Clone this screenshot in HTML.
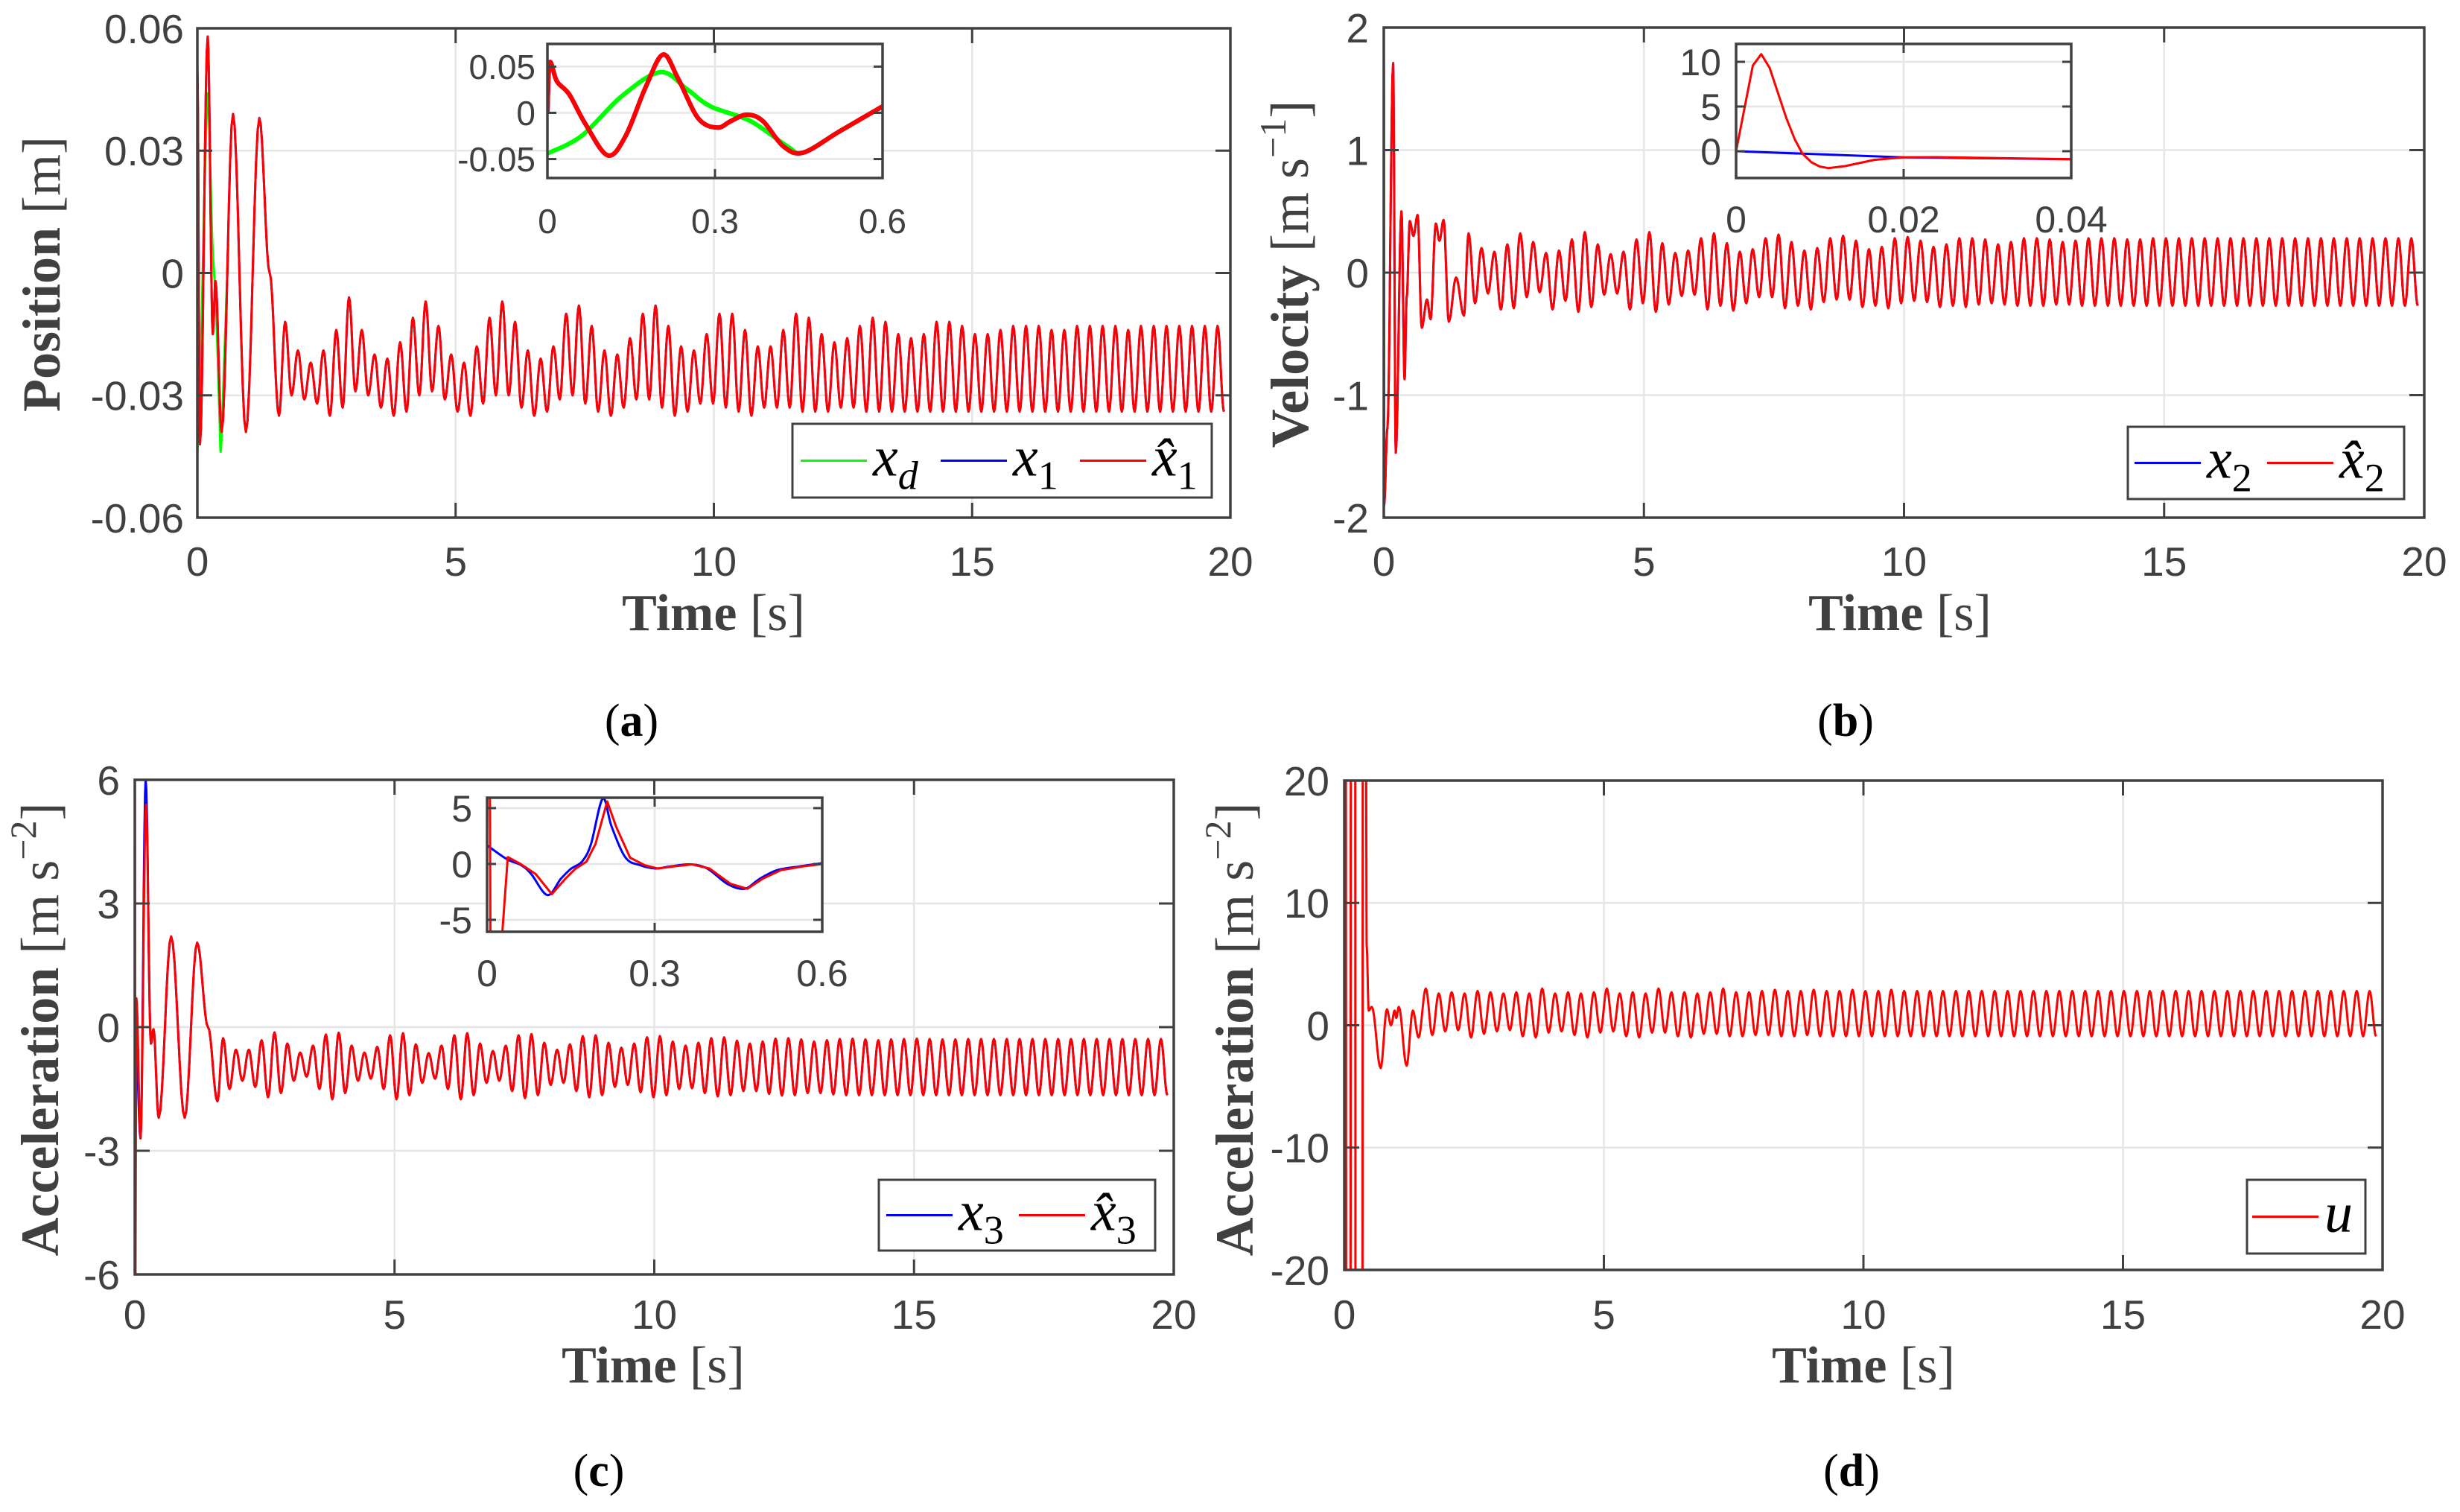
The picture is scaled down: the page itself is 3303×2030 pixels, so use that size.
<!DOCTYPE html>
<html><head><meta charset="utf-8">
<style>
html,body{margin:0;padding:0;background:#fff;}
svg{display:block;}
</style></head>
<body>
<svg id="fig" xmlns="http://www.w3.org/2000/svg" width="3303" height="2030" viewBox="0 0 3303 2030"></svg>
<script>
// ---------- DATA ----------
// Panel (a) position [mm]
const aTransT = [0,0.05,0.2,0.3,0.35,0.47,0.69,0.94,1.2,1.4,1.58];
const aTransV = [50,-42,58,-15,-2,-39,39,-39,38,0,-35];
const aSteadyStart = 1.7;
const aPeaks = [-12,-19,-22,-19,-14,-6,-14,-20,-21,-17,-11,-7,-13,-20,-22,-18,-11,-7,-12,-19,-21,-18,-10,-8,-13,-19,-20,-16,-10,-8,-13,-18,-19,-15,-10,-10,-14,-18,-18,-14,-10,-11,-15,-17,-16,-13,-11,-12,-15,-16,-15,-12,-12,-13,-15,-15,-14,-13,-13,-13,-14,-14,-13,-13,-13,-13,-14,-13,-13,-13,-13,-13,-13,-13];
const aTroughs = [-30,-31,-32,-35,-33,-29,-30,-33,-35,-34,-30,-29,-31,-34,-35,-32,-30,-30,-33,-35,-34,-31,-30,-32,-34,-35,-33,-31,-31,-33,-35,-34,-32,-32,-33,-34,-35,-33,-33,-33,-34,-34,-34,-33,-33,-34,-34,-34,-34,-34,-34,-34,-34,-34,-34,-34,-34,-34,-34,-34,-34,-34,-34,-34,-34,-34,-34,-34,-34,-34,-34,-34,-34,-34];
const aInsetRedT = [0,0.004,0.017,0.039,0.068,0.108,0.14,0.176,0.207,0.234,0.27,0.304,0.328,0.357,0.386,0.422,0.458,0.523,0.6];
const aInsetRedV = [0,54,34,20,-12,-46,-25,28,63,37,-6,-16,-9,-2,-9,-36,-43,-20,7];
const aInsetGreenT = [0,0.061,0.133,0.202,0.249,0.292,0.364,0.429,0.458,0.523,0.6];
const aInsetGreenV = [-44,-25,18,44,26,7,-9,-36,-43,-20,7];
// Panel (b) velocity [0.01 m/s]
const bTransT = [0,0.005,0.07,0.18,0.23,0.34,0.4,0.44,0.5,0.57,0.65,0.73,0.83,0.9,1.0,1.07,1.15,1.25,1.39,1.54];
const bTransV = [200,-190,-127,171,-147,50,-87,-20,42,30,47,-45,-22,-38,40,26,43,-40,-4,-35];
const bSteadyStart = 1.63;
const bPeaks = [32,20,17,23,32,25,16,18,27,33,23,15,17,27,33,24,16,18,28,32,24,17,19,28,31,25,18,20,28,30,26,19,21,28,29,26,21,23,28,28,27,23,25,28,28,27,25,26,28,28,28,27,27,28,28,28,28,28,28,28,28,28,28,28,28,28,28,28,28,28,28,28,28,28];
const bTroughs = [-25,-17,-30,-29,-20,-16,-30,-23,-32,-28,-18,-17,-30,-25,-32,-26,-19,-18,-30,-27,-31,-25,-20,-20,-29,-27,-30,-24,-22,-22,-28,-27,-29,-25,-23,-24,-28,-27,-28,-26,-25,-26,-27,-27,-27,-26,-26,-27,-27,-27,-27,-27,-27,-27,-27,-27,-27,-27,-27,-27,-27,-27,-27,-27,-27,-27,-27,-27,-27,-27,-27,-27,-27,-27];
const bInsetRedT = [0,0.002,0.003,0.004,0.006,0.007,0.0079,0.009,0.01,0.011,0.013,0.0165,0.02,0.024,0.0298,0.04];
const bInsetRedV = [0,9.58,10.86,9.33,3.7,1.33,-0.25,-1.25,-1.72,-1.89,-1.67,-0.97,-0.69,-0.67,-0.75,-0.89];
const bInsetBlueT = [0,0.02,0.04];
const bInsetBlueV = [0,-0.69,-0.89];
// Panel (c) acceleration [0.01 m/s^2]
const cTransT = [0,0.11,0.21,0.31,0.36,0.46,0.7,0.96,1.2,1.41,1.59];
const cTransV = [70,-270,600,-40,-5,-220,220,-220,205,0,-180];
const cRedTransT = [0,0.01,0.03,0.11,0.215,0.31,0.36,0.46,0.7,0.96,1.2,1.41,1.59];
const cRedTransV = [620,-620,70,-270,540,-40,-5,-220,220,-220,205,0,-180];
const cSteadyStart = 1.7;
const cPeaks = [-27,-55,-55,-32,-13,-40,-62,-45,-18,-14,-45,-62,-48,-20,-15,-42,-63,-45,-20,-15,-40,-58,-45,-20,-17,-38,-55,-42,-22,-20,-38,-50,-40,-25,-22,-35,-45,-38,-27,-25,-33,-40,-35,-28,-27,-30,-35,-32,-29,-28,-30,-32,-30,-29,-28,-29,-30,-30,-29,-29,-29,-29,-29,-29,-29,-29,-29,-29,-29,-29,-29,-29,-29,-29];
const cTroughs = [-150,-130,-145,-170,-160,-130,-120,-150,-175,-160,-130,-125,-150,-175,-165,-135,-125,-150,-175,-165,-135,-130,-155,-172,-165,-140,-135,-155,-170,-165,-145,-140,-158,-170,-165,-150,-148,-160,-168,-165,-155,-155,-162,-166,-165,-160,-160,-163,-165,-165,-165,-165,-165,-165,-165,-165,-165,-165,-165,-165,-165,-165,-165,-165,-165,-165,-165,-165,-165,-165,-165,-165,-165,-165];
const cInsetBlueT = [0,0.035,0.061,0.079,0.108,0.132,0.15,0.17,0.186,0.207,0.223,0.248,0.274,0.301,0.328,0.363,0.394,0.43,0.461,0.488,0.519,0.559,0.6];
const cInsetBlueV = [1.67,0.44,-0.11,-0.9,-2.78,-1.33,-0.44,0.22,1.78,5.84,3.33,0.56,-0.11,-0.4,-0.22,-0.04,-0.4,-1.78,-2.22,-1.33,-0.56,-0.22,0.07];
const cInsetRedT = [0,0.0005,0.005,0.006,0.026,0.037,0.06,0.087,0.116,0.14,0.158,0.178,0.194,0.215,0.231,0.256,0.282,0.305,0.334,0.367,0.398,0.436,0.466,0.493,0.526,0.565,0.6];
const cInsetRedV = [0,7,7,-7,-7,0.62,0,-0.9,-2.7,-1.33,-0.44,0.22,1.78,5.6,3.33,0.56,-0.11,-0.4,-0.22,-0.04,-0.4,-1.78,-2.22,-1.33,-0.56,-0.22,0];
// Panel (d) control u [0.1 m/s^2]
const dTransT = [0,0.005,0.03,0.035,0.12,0.125,0.21,0.215,0.35,0.355,0.42,0.43,0.47,0.53,0.7,0.82,0.9,0.97,1.0,1.05,1.2,1.32,1.43];
const dTransV = [-210,210,210,-210,-210,210,210,-210,-210,210,210,65,12,15,-35,13,0,12,6,15,-33,12,-10];
const dSteadyStart = 1.57;
const dPeaks = [30,26,27,26,28,27,26,27,26,30,26,27,26,27,30,26,27,26,30,27,27,26,27,30,27,27,28,29,28,28,29,28,28,29,28,28,29,28,28,28,28,28,28,28,28,28,28,28,28,28,28,28,28,28,28,28,28,28,28,28,28,28,28,28,28,28,28,28,28,28,28,28,28,28];
const dTroughs = [-8,-5,-4,-10,-7,-5,-4,-9,-10,-6,-5,-8,-10,-6,-5,-9,-10,-6,-6,-9,-10,-7,-7,-9,-9,-8,-8,-9,-9,-8,-9,-9,-9,-9,-9,-9,-9,-9,-9,-9,-9,-9,-9,-9,-9,-9,-9,-9,-9,-9,-9,-9,-9,-9,-9,-9,-9,-9,-9,-9,-9,-9,-9,-9,-9,-9,-9,-9,-9,-9,-9,-9,-9,-9];
const xTicksMain = [0,5,10,15,20];
const xTickLabelsMain = ['0','5','10','15','20'];

// ---------- HELPERS ----------
const NS = 'http://www.w3.org/2000/svg';
const svg = document.getElementById('fig');
function mk(tag, attrs, name, parent) {
  const e = document.createElementNS(NS, tag);
  for (const k in attrs) e.setAttribute(k, attrs[k]);
  
  
  (parent || svg).appendChild(e);
  return e;
}
function axis(x0, x1, y0, y1, xmin, xmax, ymin, ymax) {
  return {x0, x1, y0, y1,
    X: v => x0 + (v - xmin) / (xmax - xmin) * (x1 - x0),
    Y: v => y1 - (v - ymin) / (ymax - ymin) * (y1 - y0)};
}
function combine(transT, transV, start, peaks, troughs, scale) {
  const T = transT.slice(), V = transV.map(v => v * scale);
  const P = (20 - start) / peaks.length;
  for (let k = 0; k < peaks.length; k++) {
    T.push(start + k * P); V.push(peaks[k] * scale);
    T.push(start + (k + 0.5) * P); V.push(troughs[k] * scale);
  }
  return [T, V];
}
function cosPath(ax, T, V) {
  let d = 'M' + ax.X(T[0]).toFixed(1) + ',' + ax.Y(V[0]).toFixed(1);
  for (let i = 0; i < T.length - 1; i++) {
    const n = 8;
    for (let s = 1; s <= n; s++) {
      const f = s / n, w = (1 - Math.cos(Math.PI * f)) / 2;
      d += 'L' + ax.X(T[i] + (T[i+1] - T[i]) * f).toFixed(1) + ',' + ax.Y(V[i] + (V[i+1] - V[i]) * w).toFixed(1);
    }
  }
  return d;
}
function crPath(ax, T, V) {
  const P = T.map((t, i) => [ax.X(t), ax.Y(V[i])]);
  let d = 'M' + P[0][0].toFixed(1) + ',' + P[0][1].toFixed(1);
  for (let i = 0; i < P.length - 1; i++) {
    const p0 = P[Math.max(0, i-1)], p1 = P[i], p2 = P[i+1], p3 = P[Math.min(P.length-1, i+2)];
    const c1 = [p1[0] + (p2[0]-p0[0])/6, p1[1] + (p2[1]-p0[1])/6];
    const c2 = [p2[0] - (p3[0]-p1[0])/6, p2[1] - (p3[1]-p1[1])/6];
    d += 'C' + c1[0].toFixed(1)+','+c1[1].toFixed(1)+' '+c2[0].toFixed(1)+','+c2[1].toFixed(1)+' '+p2[0].toFixed(1)+','+p2[1].toFixed(1);
  }
  return d;
}
function linPath(ax, T, V) {
  return T.map((t, i) => (i ? 'L' : 'M') + ax.X(t).toFixed(1) + ',' + ax.Y(V[i]).toFixed(1)).join('');
}
let clipId = 0;
function frame(ax, xt, xl, yt, yl, fs, xLabY, yLabGap, name, tickLen) {
  const g = mk('g', {}, name);
  mk('rect', {x: ax.x0, y: ax.y0, width: ax.x1 - ax.x0, height: ax.y1 - ax.y0, fill: '#fff'}, name + '-background', g);
  xt.forEach((v, i) => {
    mk('line', {x1: ax.X(v), x2: ax.X(v), y1: ax.y0, y2: ax.y1, stroke: '#e6e6e6', 'stroke-width': 2.5}, name + '-x-grid', g);
  });
  yt.forEach((v, i) => {
    mk('line', {x1: ax.x0, x2: ax.x1, y1: ax.Y(v), y2: ax.Y(v), stroke: '#e6e6e6', 'stroke-width': 2.5}, name + '-y-grid', g);
  });
  const id = 'clip' + (clipId++);
  const cp = mk('clipPath', {id: id}, name + '-clip', g);
  mk('rect', {x: ax.x0, y: ax.y0, width: ax.x1 - ax.x0, height: ax.y1 - ax.y0}, name + '-clip-rect', cp);
  const series = mk('g', {'clip-path': 'url(#' + id + ')'}, name + '-series', g);
  const over = mk('g', {}, name + '-axes', g);
  mk('rect', {x: ax.x0, y: ax.y0, width: ax.x1 - ax.x0, height: ax.y1 - ax.y0, fill: 'none', stroke: '#404040', 'stroke-width': 3.5}, name + '-box', over);
  xt.forEach((v, i) => {
    mk('line', {x1: ax.X(v), x2: ax.X(v), y1: ax.y1, y2: ax.y1 - tickLen, stroke: '#404040', 'stroke-width': 3}, name + '-x-tick', over);
    mk('line', {x1: ax.X(v), x2: ax.X(v), y1: ax.y0, y2: ax.y0 + tickLen, stroke: '#404040', 'stroke-width': 3}, name + '-x-tick-top', over);
    const t = mk('text', {x: ax.X(v), y: xLabY, 'text-anchor': 'middle', 'font-size': fs, fill: '#404040', 'font-family': 'Liberation Sans, sans-serif'}, name + '-x-tick-label', over);
    t.textContent = xl[i];
  });
  yt.forEach((v, i) => {
    mk('line', {x1: ax.x0, x2: ax.x0 + tickLen, y1: ax.Y(v), y2: ax.Y(v), stroke: '#404040', 'stroke-width': 3}, name + '-y-tick', over);
    mk('line', {x1: ax.x1, x2: ax.x1 - tickLen, y1: ax.Y(v), y2: ax.Y(v), stroke: '#404040', 'stroke-width': 3}, name + '-y-tick-right', over);
    const t = mk('text', {x: ax.x0 - yLabGap, y: ax.Y(v) + fs * 0.36, 'text-anchor': 'end', 'font-size': fs, fill: '#404040', 'font-family': 'Liberation Sans, sans-serif'}, name + '-y-tick-label', over);
    t.textContent = yl[i];
  });
  return series;
}
function line(parent, d, color, w, name) {
  mk('path', {d: d, fill: 'none', stroke: color, 'stroke-width': w, 'stroke-linejoin': 'round'}, name, parent);
}
function xTitle(cx, y, name) {
  const t = mk('text', {x: cx, y: y, 'text-anchor': 'middle', 'font-size': 70, fill: '#404040', 'font-family': 'Liberation Serif, serif'}, name);
  const a = mk('tspan', {'font-weight': 'bold'}, name + '-bold', t); a.textContent = 'Time ';
  const b = mk('tspan', {}, name + '-unit', t); b.textContent = '[s]';
}
function yTitle(x, cy, bold, unit, sup, name) {
  const t = mk('text', {x: 0, y: 0, 'text-anchor': 'middle', 'font-size': 72, fill: '#404040', 'font-family': 'Liberation Serif, serif', transform: 'translate(' + x + ',' + cy + ') rotate(-90)'}, name);
  const a = mk('tspan', {'font-weight': 'bold'}, name + '-bold', t); a.textContent = bold + ' ';
  const b = mk('tspan', {}, name + '-unit', t); b.textContent = unit;
  if (sup) {
    const s = mk('tspan', {dy: -30, 'font-size': 50}, name + '-sup', t); s.textContent = sup;
    const c = mk('tspan', {dy: 30}, name + '-close', t); c.textContent = ']';
  }
}
function caption(cx, y, s, name) {
  const t = mk('text', {x: cx, y: y, 'text-anchor': 'middle', 'font-size': 62, fill: '#000', 'font-family': 'Liberation Serif, serif'}, name);
  const a = mk('tspan', {}, name + '-open', t); a.textContent = '(';
  const b = mk('tspan', {'font-weight': 'bold'}, name + '-letter', t); b.textContent = s;
  const c = mk('tspan', {}, name + '-close', t); c.textContent = ')';
}
function legend(x0, y0, x1, y1, entries, name) {
  const g = mk('g', {}, name);
  mk('rect', {x: x0, y: y0, width: x1 - x0, height: y1 - y0, fill: '#fff', stroke: '#404040', 'stroke-width': 3}, name + '-box', g);
  const ly = y0 + (y1 - y0) * 0.5;
  entries.forEach(e => {
    mk('line', {x1: e.lx, x2: e.lx + 89, y1: ly, y2: ly, stroke: e.color, 'stroke-width': 3}, name + '-swatch-' + e.id, g);
    const t = mk('text', {x: e.lx + 97, y: ly + 20, 'font-size': 76, 'font-style': 'italic', fill: '#000', 'font-family': 'Liberation Serif, serif'}, name + '-label-' + e.id, g);
    const m = mk('tspan', {}, name + '-label-main', t); m.textContent = e.hat ? 'x\u0302' : e.main;
    const s = mk('tspan', {dy: 18, 'font-size': 54, 'font-style': e.subItalic ? 'italic' : 'normal'}, name + '-label-sub', t); s.textContent = e.sub;
  });
}

// ---------- PANEL A ----------
const A = axis(265, 1652, 38, 695, 0, 20, -0.06, 0.06);
const sA = frame(A, xTicksMain, xTickLabelsMain, [-0.06,-0.03,0,0.03,0.06], ['-0.06','-0.03','0','0.03','0.06'], 55, 773, 18, 'panel-a', 20);
const [aT, aV] = combine(aTransT, aTransV, aSteadyStart, aPeaks, aTroughs, 0.001);
line(sA, crPath(A, aInsetGreenT, aInsetGreenV.map(v => v * 0.001)), '#00ff00', 3, 'series-xd');
line(sA, cosPath(A, aT, aV), '#0000ff', 3, 'series-x1');
line(sA, cosPath(A, aT, aV), '#ff0000', 3, 'series-x1-hat');
yTitle(80, 368, 'Position', '[m]', null, 'panel-a-y-title');
xTitle(958, 846, 'panel-a-x-title');
caption(848, 988, 'a', 'caption-a');
legend(1064, 569, 1627, 668, [
  {lx: 1075, color: '#00ff00', main: 'x', sub: 'd', subItalic: true, id: 'xd'},
  {lx: 1263, color: '#0000ff', main: 'x', sub: '1', id: 'x1'},
  {lx: 1450, color: '#ff0000', main: 'x', sub: '1', hat: true, id: 'x1hat'}], 'legend-a');
const IA = axis(735, 1185, 59, 239, 0, 0.6, -0.0705, 0.0745);
const siA = frame(IA, [0,0.3,0.6], ['0','0.3','0.6'], [-0.05,0,0.05], ['-0.05','0','0.05'], 46, 313, 16, 'inset-a', 12);
line(siA, crPath(IA, aInsetGreenT, aInsetGreenV.map(v => v * 0.001)), '#00ff00', 6, 'inset-a-xd');
line(siA, crPath(IA, aInsetRedT, aInsetRedV.map(v => v * 0.001)), '#0000ff', 6, 'inset-a-x1');
line(siA, crPath(IA, aInsetRedT, aInsetRedV.map(v => v * 0.001)), '#ff0000', 6, 'inset-a-x1-hat');

// ---------- PANEL B ----------
const B = axis(1858, 3255, 37, 695, 0, 20, -2, 2);
const sB = frame(B, xTicksMain, xTickLabelsMain, [-2,-1,0,1,2], ['-2','-1','0','1','2'], 55, 773, 20, 'panel-b', 20);
const [bT, bV] = combine(bTransT, bTransV, bSteadyStart, bPeaks, bTroughs, 0.01);
line(sB, cosPath(B, bT, bV), '#0000ff', 3, 'series-x2');
line(sB, cosPath(B, bT, bV), '#ff0000', 3, 'series-x2-hat');
yTitle(1756, 368, 'Velocity', '[m s', '\u22121', 'panel-b-y-title');
xTitle(2551, 846, 'panel-b-x-title');
caption(2478, 988, 'b', 'caption-b');
legend(2857, 573, 3228, 670, [
  {lx: 2866, color: '#0000ff', main: 'x', sub: '2', id: 'x2'},
  {lx: 3044, color: '#ff0000', main: 'x', sub: '2', hat: true, id: 'x2hat'}], 'legend-b');
const IB = axis(2331, 2781, 59, 239, 0, 0.04, -3, 12);
const siB = frame(IB, [0,0.02,0.04], ['0','0.02','0.04'], [0,5,10], ['0','5','10'], 50, 312, 20, 'inset-b', 12);
line(siB, linPath(IB, bInsetBlueT, bInsetBlueV), '#0000ff', 3, 'inset-b-x2');
line(siB, linPath(IB, bInsetRedT, bInsetRedV), '#ff0000', 3, 'inset-b-x2-hat');

// ---------- PANEL C ----------
const C = axis(181, 1576, 1047, 1711, 0, 20, -6, 6);
const sC = frame(C, xTicksMain, xTickLabelsMain, [-6,-3,0,3,6], ['-6','-3','0','3','6'], 55, 1784, 20, 'panel-c', 20);
const [cT, cV] = combine(cTransT, cTransV, cSteadyStart, cPeaks, cTroughs, 0.01);
const [cRT, cRV] = combine(cRedTransT, cRedTransV, cSteadyStart, cPeaks, cTroughs, 0.01);
line(sC, cosPath(C, cT, cV), '#0000ff', 3, 'series-x3');
line(sC, cosPath(C, cRT, cRV), '#ff0000', 3, 'series-x3-hat');
yTitle(78, 1382, 'Acceleration', '[m s', '\u22122', 'panel-c-y-title');
xTitle(877, 1856, 'panel-c-x-title');
caption(804, 1995, 'c', 'caption-c');
legend(1180, 1584, 1551, 1679, [
  {lx: 1190, color: '#0000ff', main: 'x', sub: '3', id: 'x3'},
  {lx: 1368, color: '#ff0000', main: 'x', sub: '3', hat: true, id: 'x3hat'}], 'legend-c');
const IC = axis(654, 1104, 1071, 1251, 0, 0.6, -6.07, 5.93);
const siC = frame(IC, [0,0.3,0.6], ['0','0.3','0.6'], [-5,0,5], ['-5','0','5'], 50, 1324, 20, 'inset-c', 12);
line(siC, crPath(IC, cInsetBlueT, cInsetBlueV), '#0000ff', 3, 'inset-c-x3');
line(siC, linPath(IC, cInsetRedT, cInsetRedV), '#ff0000', 3, 'inset-c-x3-hat');

// ---------- PANEL D ----------
const D = axis(1805, 3199, 1048, 1705, 0, 20, -20, 20);
const sD = frame(D, xTicksMain, xTickLabelsMain, [-20,-10,0,10,20], ['-20','-10','0','10','20'], 55, 1784, 20, 'panel-d', 20);
const [dT, dV] = combine(dTransT, dTransV, dSteadyStart, dPeaks, dTroughs, 0.1);
line(sD, cosPath(D, dT, dV), '#ff0000', 3, 'series-u');
yTitle(1682, 1382, 'Acceleration', '[m s', '\u22122', 'panel-d-y-title');
xTitle(2502, 1856, 'panel-d-x-title');
caption(2486, 1995, 'd', 'caption-d');
legend(3017, 1584, 3176, 1683, [
  {lx: 3024, color: '#ff0000', main: 'u', sub: '', id: 'u'}], 'legend-d');
</script>
</body></html>
